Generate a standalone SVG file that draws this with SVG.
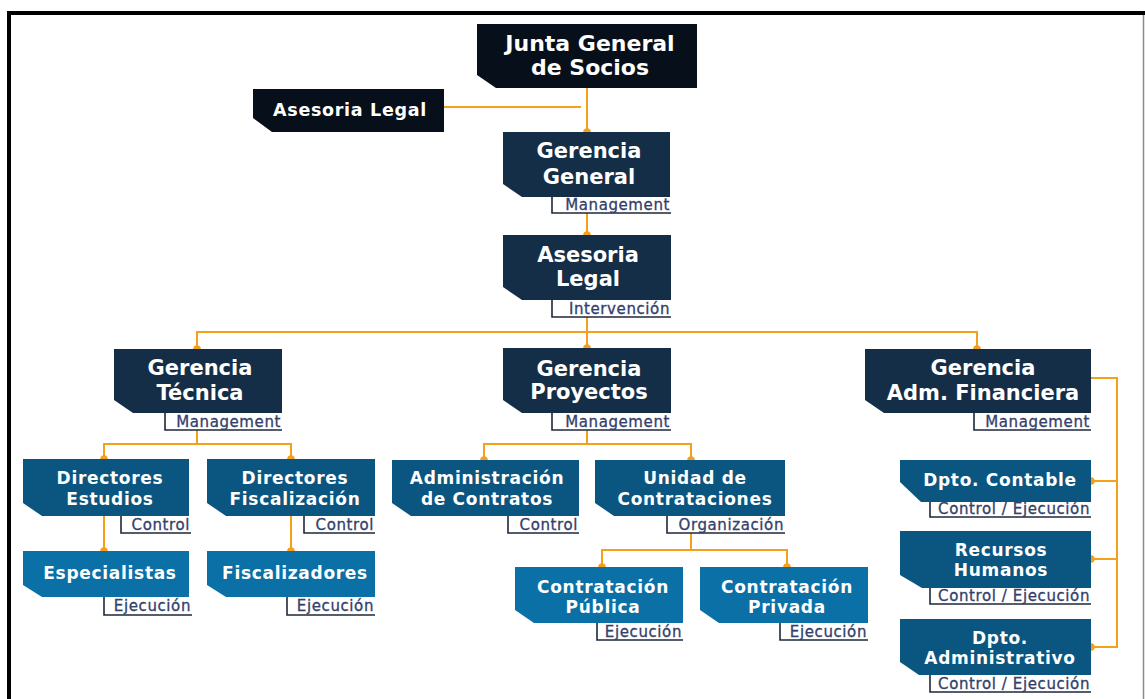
<svg xmlns="http://www.w3.org/2000/svg" width="1145" height="699" viewBox="0 0 1145 699">
<style>
.n0{fill:#07101a}
.n1{fill:#152e47}
.n2{fill:#0b5681}
.n3{fill:#0a70a6}
.t{font-family:"DejaVu Sans","Liberation Sans",sans-serif;font-weight:bold;fill:#ffffff;text-anchor:middle}
.t22{font-size:22px}
.t21{font-size:21px}
.t17{font-size:17px;letter-spacing:0.7px}
.lbg{fill:#ffffff}
.lbd{fill:none;stroke:#1d2838;stroke-width:1.6}
.lt{font-family:"DejaVu Sans","Liberation Sans",sans-serif;font-size:15px;letter-spacing:0.6px;fill:#33406a;stroke:#33406a;stroke-width:0.3;text-anchor:end}
.c{fill:none;stroke:#f5a01a;stroke-width:2}
.d{fill:#f5a01a}
</style>
<rect x="0" y="0" width="1145" height="699" fill="#ffffff"/>
<g id="frame">
<rect x="7" y="11" width="1138" height="4" fill="#000000"/>
<rect x="7" y="11" width="4" height="688" fill="#000000"/>
<line x1="1143.5" y1="15" x2="1143.5" y2="699" stroke="#8a8a8a" stroke-width="1.5"/>
</g>
<g id="connectors">
<path class="c" d="M433 107H581"/>
<path class="c" d="M587 88V132"/>
<path class="c" d="M587 213V235"/>
<path class="c" d="M587 317V348"/>
<path class="c" d="M197 349V332H977V349"/>
<path class="c" d="M197 430V444M104 459V444H291V459"/>
<path class="c" d="M104 516V551"/>
<path class="c" d="M291 516V551"/>
<path class="c" d="M587 430V444M484 460V444H691V460"/>
<path class="c" d="M691 533V550M602 567V550H787V567"/>
<path class="c" d="M1091 378H1117V647H1091M1117 481H1091M1117 559H1091"/>
<circle class="d" cx="587" cy="132" r="3.8"/>
<circle class="d" cx="587" cy="235" r="3.8"/>
<circle class="d" cx="587" cy="348" r="3.8"/>
<circle class="d" cx="197" cy="349" r="3.8"/>
<circle class="d" cx="977" cy="349" r="3.8"/>
<circle class="d" cx="104" cy="459" r="3.8"/>
<circle class="d" cx="291" cy="459" r="3.8"/>
<circle class="d" cx="104" cy="551" r="3.8"/>
<circle class="d" cx="291" cy="551" r="3.8"/>
<circle class="d" cx="484" cy="460" r="3.8"/>
<circle class="d" cx="691" cy="460" r="3.8"/>
<circle class="d" cx="602" cy="567" r="3.8"/>
<circle class="d" cx="787" cy="567" r="3.8"/>
<circle class="d" cx="1091" cy="481" r="3.8"/>
<circle class="d" cx="1091" cy="559" r="3.8"/>
<circle class="d" cx="1091" cy="647" r="3.8"/>
</g>
<g id="junta">
<polygon class="n0" points="477,24 697,24 697,88 496,88 477,75"/>
<text class="t t22" x="590" y="51">Junta General</text>
<text class="t t22" x="590" y="75">de Socios</text>
</g>
<g id="asesoria-legal-top">
<polygon class="n0" points="253,89 444,89 444,132 272,132 253,118"/>
<text class="t t17" x="350" y="116" style="font-size:17.5px">Asesoria Legal</text>
</g>
<g id="gerencia-general">
<polygon class="n1" points="503,132 670,132 670,197 522,197 503,184"/>
<text class="t t21" x="589" y="158">Gerencia</text>
<text class="t t21" x="589" y="184">General</text>
<rect class="lbg" x="552" y="197" width="119" height="16"/>
<path class="lbd" d="M552 197V213H671"/>
<text class="lt" x="670" y="209.5">Management</text>
</g>
<g id="asesoria-legal">
<polygon class="n1" points="503,235 671,235 671,300 522,300 503,287"/>
<text class="t t21" x="588" y="262">Asesoria</text>
<text class="t t21" x="588" y="286">Legal</text>
<rect class="lbg" x="552" y="300" width="119" height="17"/>
<path class="lbd" d="M552 300V317H671"/>
<text class="lt" x="670" y="313.5">Intervención</text>
</g>
<g id="gerencia-tecnica">
<polygon class="n1" points="114,349 282,349 282,413 133,413 114,400"/>
<text class="t t21" x="200" y="375">Gerencia</text>
<text class="t t21" x="200" y="400">Técnica</text>
<rect class="lbg" x="165" y="413" width="117" height="17"/>
<path class="lbd" d="M165 413V430H282"/>
<text class="lt" x="281" y="426.5">Management</text>
</g>
<g id="gerencia-proyectos">
<polygon class="n1" points="503,348 671,348 671,413 522,413 503,400"/>
<text class="t t21" x="589" y="376">Gerencia</text>
<text class="t t21" x="589" y="399">Proyectos</text>
<rect class="lbg" x="552" y="413" width="119" height="17"/>
<path class="lbd" d="M552 413V430H671"/>
<text class="lt" x="670" y="426.5">Management</text>
</g>
<g id="gerencia-adm-financiera">
<polygon class="n1" points="865,349 1091,349 1091,413 884,413 865,400"/>
<text class="t t21" x="983" y="375">Gerencia</text>
<text class="t t21" x="983" y="400">Adm. Financiera</text>
<rect class="lbg" x="974" y="413" width="117" height="17"/>
<path class="lbd" d="M974 413V430H1091"/>
<text class="lt" x="1090" y="426.5">Management</text>
</g>
<g id="directores-estudios">
<polygon class="n2" points="23,459 189,459 189,516 42,516 23,503"/>
<text class="t t17" x="110" y="484">Directores</text>
<text class="t t17" x="110" y="505">Estudios</text>
<rect class="lbg" x="121" y="516" width="70" height="17"/>
<path class="lbd" d="M121 516V533H191"/>
<text class="lt" x="190" y="529.5">Control</text>
</g>
<g id="directores-fiscalizacion">
<polygon class="n2" points="207,459 375,459 375,516 226,516 207,503"/>
<text class="t t17" x="295" y="484">Directores</text>
<text class="t t17" x="295" y="505">Fiscalización</text>
<rect class="lbg" x="304" y="516" width="71" height="17"/>
<path class="lbd" d="M304 516V533H375"/>
<text class="lt" x="374" y="529.5">Control</text>
</g>
<g id="administracion-contratos">
<polygon class="n2" points="392,460 579,460 579,516 411,516 392,503"/>
<text class="t t17" x="487" y="484">Administración</text>
<text class="t t17" x="487" y="505">de Contratos</text>
<rect class="lbg" x="508" y="516" width="71" height="17"/>
<path class="lbd" d="M508 516V533H579"/>
<text class="lt" x="578" y="529.5">Control</text>
</g>
<g id="unidad-contrataciones">
<polygon class="n2" points="595,460 785,460 785,516 614,516 595,503"/>
<text class="t t17" x="695" y="484">Unidad de</text>
<text class="t t17" x="695" y="505">Contrataciones</text>
<rect class="lbg" x="667" y="516" width="118" height="17"/>
<path class="lbd" d="M667 516V533H785"/>
<text class="lt" x="784" y="529.5">Organización</text>
</g>
<g id="especialistas">
<polygon class="n3" points="23,551 189,551 189,597 42,597 23,585"/>
<text class="t t17" x="110" y="579">Especialistas</text>
<rect class="lbg" x="104" y="597" width="88" height="18"/>
<path class="lbd" d="M104 597V615H192"/>
<text class="lt" x="191" y="611">Ejecución</text>
</g>
<g id="fiscalizadores">
<polygon class="n3" points="207,551 375,551 375,597 226,597 207,585"/>
<text class="t t17" x="295" y="579">Fiscalizadores</text>
<rect class="lbg" x="287" y="597" width="88" height="18"/>
<path class="lbd" d="M287 597V615H375"/>
<text class="lt" x="374" y="611">Ejecución</text>
</g>
<g id="contratacion-publica">
<polygon class="n3" points="515,567 683,567 683,623 534,623 515,610"/>
<text class="t t17" x="603" y="593">Contratación</text>
<text class="t t17" x="603" y="613">Pública</text>
<rect class="lbg" x="597" y="623" width="86" height="17"/>
<path class="lbd" d="M597 623V640H683"/>
<text class="lt" x="682" y="636.5">Ejecución</text>
</g>
<g id="contratacion-privada">
<polygon class="n3" points="700,567 868,567 868,623 719,623 700,610"/>
<text class="t t17" x="787" y="593">Contratación</text>
<text class="t t17" x="787" y="613">Privada</text>
<rect class="lbg" x="780" y="623" width="88" height="17"/>
<path class="lbd" d="M780 623V640H868"/>
<text class="lt" x="867" y="636.5">Ejecución</text>
</g>
<g id="dpto-contable">
<polygon class="n2" points="900,460 1091,460 1091,502 921,502 900,482"/>
<text class="t t17" x="1000" y="486">Dpto. Contable</text>
<rect class="lbg" x="930" y="502" width="161" height="15"/>
<path class="lbd" d="M930 502V517H1091"/>
<text class="lt" x="1090" y="514">Control / Ejecución</text>
</g>
<g id="recursos-humanos">
<polygon class="n2" points="900,531 1091,531 1091,588 922,588 900,575"/>
<text class="t t17" x="1001" y="556">Recursos</text>
<text class="t t17" x="1001" y="576">Humanos</text>
<rect class="lbg" x="930" y="588" width="161" height="16"/>
<path class="lbd" d="M930 588V604H1091"/>
<text class="lt" x="1090" y="600.5">Control / Ejecución</text>
</g>
<g id="dpto-administrativo">
<polygon class="n2" points="900,619 1091,619 1091,675 919,675 900,662"/>
<text class="t t17" x="1000" y="644">Dpto.</text>
<text class="t t17" x="1000" y="664">Administrativo</text>
<rect class="lbg" x="930" y="675" width="161" height="17"/>
<path class="lbd" d="M930 675V692H1091"/>
<text class="lt" x="1090" y="688.5">Control / Ejecución</text>
</g>
</svg>
